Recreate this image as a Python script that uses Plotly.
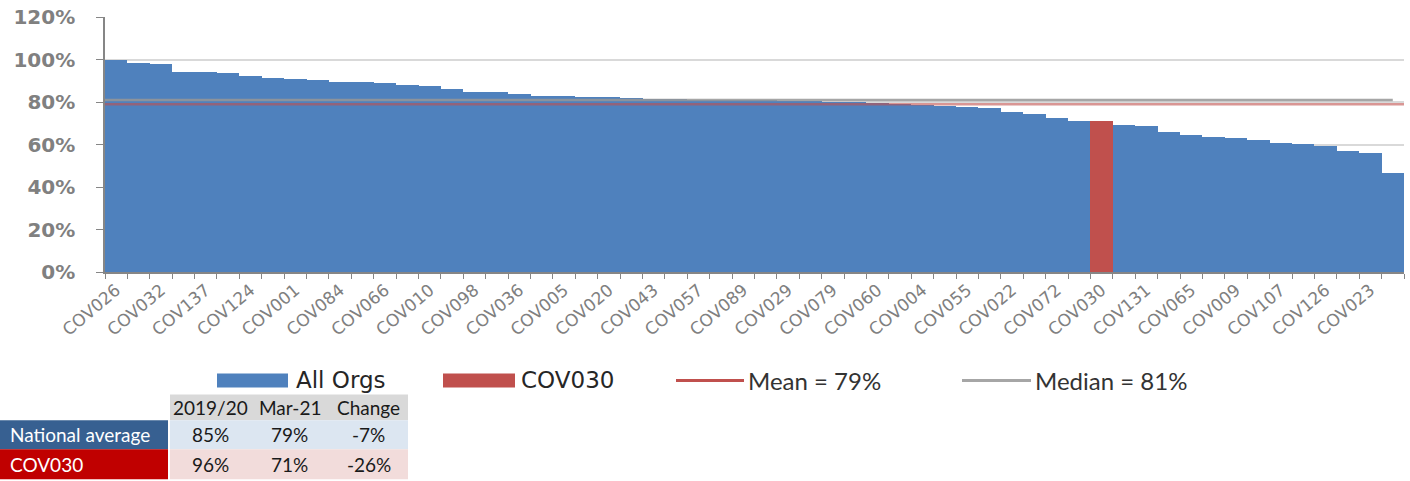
import plotly.graph_objects as go

# Share of each organisation, sorted from highest to lowest (58 organisations)
org_share = [
    1.000, 0.982, 0.978, 0.942, 0.940, 0.936, 0.922, 0.914, 0.908, 0.903,
    0.896, 0.892, 0.890, 0.882, 0.874, 0.859, 0.848, 0.845, 0.836, 0.829,
    0.827, 0.825, 0.823, 0.820, 0.816, 0.813, 0.811, 0.810, 0.809, 0.808,
    0.806, 0.804, 0.801, 0.798, 0.795, 0.791, 0.785, 0.781, 0.776, 0.773,
    0.753, 0.745, 0.723, 0.710, 0.710, 0.692, 0.687, 0.657, 0.645, 0.637,
    0.631, 0.621, 0.608, 0.601, 0.594, 0.569, 0.559, 0.468,
]

# Codes shown on the category axis (every second organisation)
labelled_codes = [
    "COV026", "COV032", "COV137", "COV124", "COV001", "COV084", "COV066",
    "COV010", "COV098", "COV036", "COV005", "COV020", "COV043", "COV057",
    "COV089", "COV029", "COV079", "COV060", "COV004", "COV055", "COV022",
    "COV072", "COV030", "COV131", "COV065", "COV009", "COV107", "COV126",
    "COV023",
]

highlight_org = "COV030"
mean_value = 0.79
median_value = 0.81

# Summary table
table_columns = ["2019/20", "Mar-21", "Change"]
national_avg = [0.85, 0.79]
highlight_avg = [0.96, 0.71]

# ---------------------------------------------------------------------------
n = len(org_share)
positions = list(range(n))
label_positions = positions[::2][: len(labelled_codes)]
hi_pos = label_positions[labelled_codes.index(highlight_org)]

BLUE = "#4f81bd"
RED = "#c0504d"
GREY_TXT = "#808080"

fig = go.Figure()
fig.add_trace(go.Bar(x=positions, y=org_share, marker=dict(color=BLUE, line_width=0),
                     name="All Orgs", showlegend=False))
fig.add_trace(go.Bar(x=[hi_pos], y=[org_share[hi_pos]], marker=dict(color=RED, line_width=0),
                     name=highlight_org, showlegend=False))
fig.add_trace(go.Scatter(x=[-0.5, n - 0.5], y=[mean_value, mean_value], mode="lines",
                         line=dict(color="rgba(192,80,77,0.6)", width=2.5),
                         name="Mean", showlegend=False, hoverinfo="skip"))
fig.add_trace(go.Scatter(x=[-0.5, n - 1], y=[median_value, median_value], mode="lines",
                         line=dict(color="rgba(150,150,150,0.85)", width=2.5),
                         name="Median", showlegend=False, hoverinfo="skip"))

# Plot area in pixels
L, R, T, B = 105, 1404, 16.7, 272.3


def px(x):
    return (x - L) / (R - L)


def py(y):
    return (B - y) / (B - T)


shapes = []
annotations = []

# ---- custom legend ----
LEG_Y = 381
legend_font_big = dict(family="DejaVu Sans", size=23, color="#262626")
legend_font_cal = dict(family="Lato", size=24, color="#333333")
shapes.append(dict(type="rect", xref="paper", yref="paper", x0=px(217), x1=px(288),
                   y0=py(388), y1=py(374), fillcolor=BLUE, line_width=0))
annotations.append(dict(xref="paper", yref="paper", x=px(294), y=py(LEG_Y), text="All Orgs",
                        showarrow=False, xanchor="left", yanchor="middle", font=legend_font_big))
shapes.append(dict(type="rect", xref="paper", yref="paper", x0=px(443), x1=px(515),
                   y0=py(388), y1=py(374), fillcolor=RED, line_width=0))
annotations.append(dict(xref="paper", yref="paper", x=px(519), y=py(LEG_Y), text=highlight_org,
                        showarrow=False, xanchor="left", yanchor="middle", font=legend_font_big))
shapes.append(dict(type="line", xref="paper", yref="paper", x0=px(676), x1=px(744),
                   y0=py(LEG_Y), y1=py(LEG_Y), line=dict(color=RED, width=3)))
annotations.append(dict(xref="paper", yref="paper", x=px(746), y=py(LEG_Y),
                        text=f"Mean = {mean_value:.0%}", showarrow=False,
                        xanchor="left", yanchor="middle", font=legend_font_cal))
shapes.append(dict(type="line", xref="paper", yref="paper", x0=px(962), x1=px(1031),
                   y0=py(LEG_Y), y1=py(LEG_Y), line=dict(color="#a6a6a6", width=3)))
annotations.append(dict(xref="paper", yref="paper", x=px(1033), y=py(LEG_Y),
                        text=f"Median = {median_value:.0%}", showarrow=False,
                        xanchor="left", yanchor="middle", font=legend_font_cal))

# ---- summary table ----
tbl_font = dict(family="Lato", size=19, color="#1a1a1a")
col_edges = [170, 250, 329, 408]
row_edges = [395, 421, 450, 480]


def cell(x0, x1, y0, y1, color):
    shapes.append(dict(type="rect", xref="paper", yref="paper", x0=px(x0), x1=px(x1),
                       y0=py(y1), y1=py(y0), fillcolor=color, line_width=0, layer="below"))


def text(x, y, s, color="#1a1a1a", anchor="center"):
    f = dict(tbl_font)
    f["color"] = color
    annotations.append(dict(xref="paper", yref="paper", x=px(x), y=py(y), text=s,
                            showarrow=False, xanchor=anchor, yanchor="middle", font=f))


cell(col_edges[0], col_edges[-1], row_edges[0], row_edges[1], "#d9d9d9")
cell(0, 168, row_edges[1], row_edges[2], "#376091")
cell(col_edges[0], col_edges[-1], row_edges[1], row_edges[2], "#dce6f1")
cell(0, 168, row_edges[2], row_edges[3], "#c00000")
cell(col_edges[0], col_edges[-1], row_edges[2], row_edges[3], "#f2dcdb")

for i, c in enumerate(table_columns):
    text((col_edges[i] + col_edges[i + 1]) / 2, (row_edges[0] + row_edges[1]) / 2, c)

rows = [("National average", national_avg), (highlight_org, highlight_avg)]
for r, (name, (before, after)) in enumerate(rows):
    yc = (row_edges[r + 1] + row_edges[r + 2]) / 2
    text(8, yc, name, color="white", anchor="left")
    change = after / before - 1
    vals = [f"{before:.0%}", f"{after:.0%}", f"{change:.0%}"]
    for i, v in enumerate(vals):
        text((col_edges[i] + col_edges[i + 1]) / 2, yc, v)

fig.update_layout(
    width=1410, height=481,
    margin=dict(l=L, r=1410 - R, t=T, b=481 - B),
    paper_bgcolor="white", plot_bgcolor="white",
    barmode="overlay", bargap=0,
    shapes=shapes, annotations=annotations,
    showlegend=False,
)
fig.update_xaxes(
    range=[-0.5, n - 0.5],
    tickmode="array", tickvals=label_positions, ticktext=labelled_codes,
    tickangle=-40, ticks="",
    tickfont=dict(family="DejaVu Sans", size=17, color=GREY_TXT),
    showline=True, linecolor="#868686", linewidth=1.5,
    showgrid=False, zeroline=False,
    minor=dict(tickmode="array", tickvals=[p - 0.5 for p in range(n + 1)],
               ticks="outside", ticklen=5, tickcolor="#868686", tickwidth=1),
)
fig.update_yaxes(
    range=[0, 1.2], dtick=0.2, tickformat=".0%",
    ticks="outside", ticklen=7, tickcolor="#868686", ticklabelstandoff=17,
    tickfont=dict(family="DejaVu Sans", size=20, color=GREY_TXT, weight="bold"),
    showline=True, linecolor="#868686", linewidth=1.5,
    showgrid=True, gridcolor="#d9d9d9", gridwidth=2, zeroline=False,
)

fig.write_html("out.html")
